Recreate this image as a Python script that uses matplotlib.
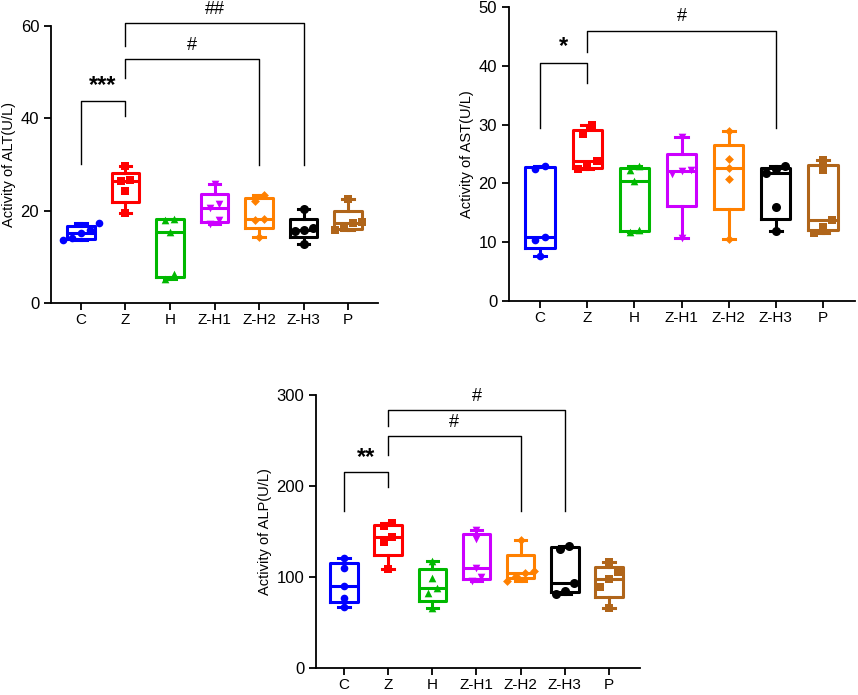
import numpy as np
import matplotlib.pyplot as plt

plt.rcParams["font.family"] = ["Liberation Sans", "DejaVu Sans"]

# DATA
groups = ["C", "Z", "H", "Z-H1", "Z-H2", "Z-H3", "P"]
colors = ["#0000FF", "#FF0000", "#00B800", "#CC00FF", "#FF8000", "#000000", "#B0651A"]
markers = ["o", "s", "^", "v", "D", "o", "s"]
msizes = [5.5, 5.5, 5.5, 5.5, 4.5, 6.5, 5.5]

alt_values = [
    [13.7, 14.1, 15.2, 15.9, 17.3],
    [19.6, 24.2, 26.4, 26.7, 29.6],
    [5.1, 6.3, 15.3, 18.0, 18.3],
    [17.2, 18.0, 20.6, 21.5, 25.8],
    [14.3, 18.0, 18.2, 22.2, 23.4],
    [12.8, 15.6, 15.8, 16.3, 20.3],
    [15.9, 16.3, 17.4, 17.5, 22.5],
]
ast_values = [
    [7.6, 10.3, 10.8, 22.5, 23.0],
    [22.4, 22.9, 23.8, 28.4, 29.9],
    [11.7, 12.0, 20.4, 22.3, 22.9],
    [10.7, 21.6, 22.1, 22.2, 27.9],
    [10.5, 20.7, 22.6, 24.2, 28.9],
    [11.9, 16.0, 21.8, 22.4, 23.0],
    [11.6, 12.6, 13.8, 22.2, 24.0],
]
alp_values = [
    [67, 77, 90, 110, 121],
    [109, 139, 144, 156, 159],
    [65.5, 82, 88, 99, 118],
    [95.5, 99.5, 110, 142, 152],
    [96, 101, 104.5, 107, 141],
    [81, 85, 93, 131, 134],
    [66, 89, 97.5, 105, 117],
]

# brackets: (left group, right group, top y, left leg end, right leg end, label, label y)
alt_sig = [
    (0, 1, 43.7, 30.1, 40.5, "***", 44.6),
    (1, 4, 52.8, 48.7, 29.9, "#", 54.0),
    (1, 5, 60.6, 55.7, 29.9, "##", 61.8),
]
ast_sig = [
    (0, 1, 40.5, 29.4, 37.1, "*", 41.3),
    (1, 5, 45.9, 42.4, 29.4, "#", 46.9),
]
alp_sig = [
    (0, 1, 215, 172, 199, "**", 219),
    (1, 4, 254.5, 234.5, 172, "#", 260),
    (1, 5, 283.6, 266, 172, "#", 289),
]


def box_stats(vals):
    # GraphPad-style quartiles, whiskers min to max
    v = np.sort(np.asarray(vals, float))
    return dict(
        med=np.percentile(v, 50, method="weibull"),
        q1=np.percentile(v, 25, method="weibull"),
        q3=np.percentile(v, 75, method="weibull"),
        whislo=v.min(), whishi=v.max(), fliers=[],
    )


def spread_x(vals, tol):
    # points with close values sit side by side, lone points stay centred
    v = np.sort(np.asarray(vals, float))
    xs = np.zeros(len(v))
    start = 0
    for k in range(1, len(v) + 1):
        if k == len(v) or v[k] - v[k - 1] > tol:
            n = k - start
            if n > 1:
                xs[start:k] = np.linspace(-0.1 * (n - 1), 0.1 * (n - 1), n)
            start = k
    return xs, v


def draw_panel(ax, data, sig, ymax, yticks, ylabel, xlim):
    for i, vals in enumerate(data):
        c = colors[i]
        ax.bxp([box_stats(vals)], positions=[i], widths=0.62, showfliers=False,
               boxprops=dict(color=c, lw=2.2),
               medianprops=dict(color=c, lw=2.2),
               whiskerprops=dict(color=c, lw=2.2),
               capprops=dict(color=c, lw=2.2),
               capwidths=0.26)
        offs, v = spread_x(vals, ymax * 0.03)
        ax.scatter(i + offs, v, marker=markers[i], s=msizes[i] ** 2,
                   color=c, zorder=3, clip_on=False, linewidths=0)

    for a, b, top, la, lb, txt, ty in sig:
        ax.plot([a, a, b, b], [la, top, top, lb], color="black", lw=1.0,
                clip_on=False)
        star = "*" in txt
        ax.text((a + b) / 2, ty, txt, ha="center", va="bottom",
                fontsize=17 if star else 13,
                fontweight="bold" if star else "normal",
                clip_on=False)

    ax.set_xlim(*xlim)
    ax.set_ylim(0, ymax)
    ax.set_yticks(yticks)
    ax.set_xticks(range(len(groups)))
    ax.set_xticklabels(groups, fontsize=11)
    ax.tick_params(axis="y", labelsize=12, length=5, width=1.3, direction="out")
    ax.tick_params(axis="x", length=5, width=1.3, direction="out", pad=2.5)
    ax.set_ylabel(ylabel, fontsize=10.5, labelpad=3)
    ax.spines["top"].set_visible(False)
    ax.spines["right"].set_visible(False)
    ax.spines["left"].set_linewidth(1.3)
    ax.spines["bottom"].set_linewidth(1.3)


fig = plt.figure(figsize=(8.58, 6.95), dpi=100)

ax1 = fig.add_axes([51 / 858, 1 - 303 / 695, 327 / 858, 277 / 695])
ax2 = fig.add_axes([509 / 858, 1 - 301 / 695, 346 / 858, 294 / 695])
ax3 = fig.add_axes([316 / 858, 1 - 668 / 695, 324 / 858, 273 / 695])

draw_panel(ax1, alt_values, alt_sig, 60, [0, 20, 40, 60],
           "Activity of ALT(U/L)", (-0.67, 6.67))
draw_panel(ax2, ast_values, ast_sig, 50, [0, 10, 20, 30, 40, 50],
           "Activity of AST(U/L)", (-0.66, 6.68))
draw_panel(ax3, alp_values, alp_sig, 300, [0, 100, 200, 300],
           "Activity of ALP(U/L)", (-0.63, 6.7))

fig.savefig("out.png", dpi=100)
